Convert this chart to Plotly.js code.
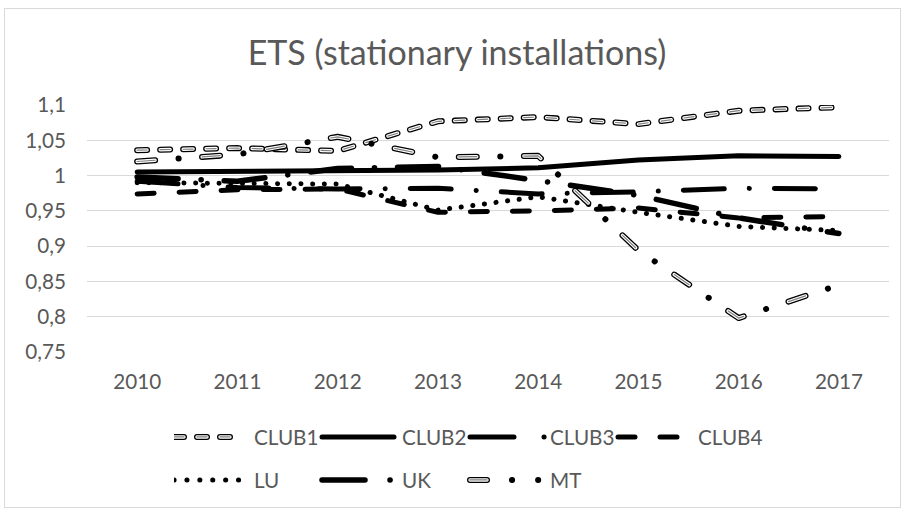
<!DOCTYPE html>
<html><head><meta charset="utf-8">
<script src="https://cdn.plot.ly/plotly-3.0.1.min.js"></script>
<style>
html,body{margin:0;padding:0;background:#fff;}
#wrap{position:relative;width:905px;height:512px;}
#chart{width:905px;height:512px;}
#frame{position:absolute;left:4px;top:8px;width:897px;height:500px;border:1px solid #d9d9d9;box-sizing:border-box;pointer-events:none;}
</style>
</head><body>
<div id="wrap"><div id="chart"></div><div id="frame"></div></div>
<script>
// ---- data ----
const years = ['2010','2011','2012','2013','2014','2015','2016','2017'];
const club1 = [1.036,1.039,1.035,1.077,1.083,1.073,1.092,1.097];
const club2 = [1.005,1.006,1.006,1.008,1.011,1.022,1.028,1.027];
const club3 = [0.992,0.983,0.981,0.982,0.974,0.977,0.982,0.981];
const club4 = [0.974,0.980,0.981,0.948,0.950,0.954,0.940,0.942];
const lu    = [0.990,0.989,0.988,0.951,0.970,0.948,0.928,0.922];
const uk    = [0.998,0.992,1.010,1.013,0.993,0.972,0.940,0.918];
const mt    = [1.020,1.030,1.055,1.026,1.028,0.894,0.798,0.845];
const yTicks = [0.75,0.8,0.85,0.9,0.95,1,1.05,1.1];

// ---- styles (layers drawn bottom to top); ld = dash used in the legend sample ----
const styles = {
  'CLUB1': [{c:'#000',w:6,d:'10px,13px'},{c:'#fff',w:3.4,d:'10px,13px'},{c:'#7f7f7f',w:1.2,d:'10px,13px'}],
  'CLUB2': [{c:'#000',w:5,d:'solid'}],
  'CLUB3': [{c:'#000',w:5,d:'41px,25px,0.1px,25px',ld:'44px,30px,0.1px,30px'}],
  'CLUB4': [{c:'#000',w:5,d:'17px,25px'}],
  'LU':    [{c:'#000',w:5,d:'0.1px,11.6px',ld:'0.1px,12.8px'}],
  'UK':    [{c:'#000',w:5.5,d:'41px,23px,0.1px,23px',ld:'43px,25px,0.1px,30px'}],
  'MT':    [{c:'#000',w:6,d:'18px,23.5px,0.1px,23.5px',ld:'17px,25px,0.1px,26px,0.1px,200px'},
            {c:'#fff',w:3.4,d:'18px,47.1px',ld:'17px,200px'},
            {c:'#7f7f7f',w:1.2,d:'18px,47.1px',ld:'17px,200px'}]
};
const legendLen = {'CLUB1':68,'CLUB2':72,'CLUB3':76,'CLUB4':68,'LU':68,'UK':70,'MT':72};
const series = [
  ['CLUB1',club1,'legend'],['CLUB2',club2,'legend'],['CLUB3',club3,'legend'],['CLUB4',club4,'legend'],
  ['LU',lu,'legend2'],['UK',uk,'legend2'],['MT',mt,'legend2']
];

const traces = [];
series.forEach(function(s){
  styles[s[0]].forEach(function(st,i){
    traces.push({
      type:'scatter', mode:'lines', name:s[0], x:years, y:s[1],
      legend:s[2], showlegend:i===0,
      line:{color:st.c, width:st.w, dash:st.d}, hoverinfo:'skip'
    });
  });
});

const FONT = 'Lato, "Open Sans", sans-serif';
const legendBase = {orientation:'h', xanchor:'left', yanchor:'middle',
  entrywidth:63, entrywidthmode:'pixels', itemwidth:70, bgcolor:'rgba(0,0,0,0)', traceorder:'normal',
  font:{size:20.7, color:'#595959', family:FONT}};
const layout = {
  width:905, height:512,
  margin:{l:87,r:16,t:105,b:160},
  paper_bgcolor:'#ffffff', plot_bgcolor:'#ffffff',
  separators:', ',
  font:{family:FONT, color:'#595959', size:20.7},
  title:{text:'ETS (stationary installations)', x:0.505, xref:'container', xanchor:'center',
         y:0.897, yref:'container', yanchor:'middle', font:{family:FONT, size:34, color:'#595959'}},
  xaxis:{type:'category', range:[-0.5,7.5], showgrid:false, zeroline:false, showline:false,
         ticks:'', tickfont:{size:20.7, color:'#595959'}, ticklabelstandoff:15, fixedrange:true},
  yaxis:{range:[0.7499,1.1001], tickmode:'array', tickvals:yTicks, showgrid:true, gridcolor:'#d9d9d9', gridwidth:1,
         zeroline:false, showline:false, ticks:'', tickfont:{size:20.7, color:'#595959'}, ticklabelstandoff:20, fixedrange:true},
  showlegend:true,
  legend:Object.assign({}, legendBase, {x:(174-87)/802, y:(352-437)/247}),
  legend2:Object.assign({}, legendBase, {x:(174-87)/802, y:(352-480)/247})
};

const gd = document.getElementById('chart');
function fix(){
  gd.querySelectorAll('.scatterlayer path.js-line').forEach(function(p){
    p.style.strokeLinecap='round'; p.style.strokeLinejoin='round';
  });
  gd.querySelectorAll('path.myclone').forEach(function(q){ q.remove(); });
  gd.querySelectorAll('g.traces').forEach(function(tr){
    const t = tr.querySelector('text.legendtext, text.legend2text, text[class*="legend"]');
    const p = tr.querySelector('.legendlines path');
    if(!t || !p) return;
    const name = (t.textContent||'').trim();
    const st = styles[name];
    if(!st) return;
    const tx = parseFloat(t.getAttribute('x')) || 80;
    const d = 'M'+(tx-80)+',0h'+legendLen[name];
    st.forEach(function(layer,i){
      const q = i===0 ? p : p.cloneNode(true);
      q.setAttribute('d', d);
      const dash = layer.ld || layer.d;
      q.style.stroke = layer.c;
      q.style.strokeWidth = layer.w+'px';
      q.style.strokeDasharray = dash==='solid' ? 'none' : dash.replace(/px/g,'');
      q.style.strokeLinecap = 'round';
      q.style.opacity = 1;
      if(i>0){ q.classList.add('myclone'); p.parentNode.appendChild(q); }
    });
  });
}
Plotly.newPlot(gd, traces, layout, {staticPlot:true, displayModeBar:false}).then(function(){
  fix();
  requestAnimationFrame(fix);
  setTimeout(fix, 50);
});
</script>
</body></html>
